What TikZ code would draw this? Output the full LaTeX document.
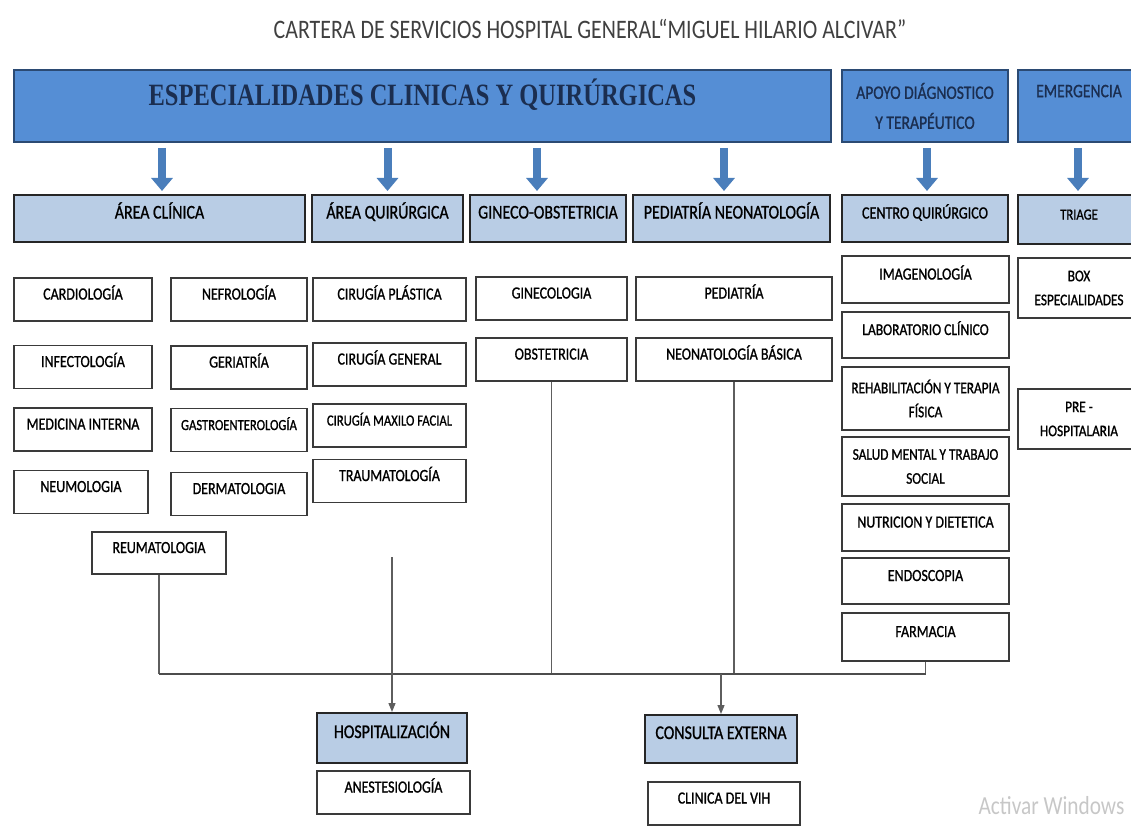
\documentclass[tikz,border=0pt]{standalone}
\usepackage{fontspec}
\setmainfont{Carlito}[FakeStretch=0.82,FakeBold=1]
\newfontfamily\plainfont{Carlito}[FakeStretch=0.82]
\newfontfamily\serifbold{Liberation Serif}[FakeStretch=0.79]
\usetikzlibrary{arrows.meta,calc,positioning}

\definecolor{deepblue}{HTML}{558ED5}
\definecolor{edgeblue}{HTML}{2B4A73}
\definecolor{navy}{HTML}{1B2E50}
\definecolor{arrowblue}{HTML}{4A7EBB}
\definecolor{paleblue}{HTML}{B9CDE5}
\definecolor{edgegray}{HTML}{3A3A3A}
\definecolor{linegray}{HTML}{5E5E5E}

\begin{document}
\begin{tikzpicture}[x=1pt,y=-1pt,
  topbox/.style={draw=edgeblue, line width=2pt, fill=deepblue, text=navy,
    minimum height=72pt, inner sep=0pt},
  headbox/.style={draw=black!85, line width=2pt, fill=paleblue, minimum height=47pt,
    inner sep=0pt, text height=12pt, text depth=12pt, font=\fontsize{19.4}{22}\selectfont},
  cellbox/.style={draw=edgegray, line width=1.6pt, fill=white, minimum height=43pt,
    inner sep=0pt, text height=12pt, text depth=12pt, font=\fontsize{17}{20}\selectfont},
  twoline/.style={text height=, text depth=, align=center, font=\fontsize{16.2}{24}\selectfont},
  bigarrow/.style={draw=arrowblue, line width=8pt, shorten <=5pt, shorten >=3pt,
    -{Triangle[width=21pt,length=13pt]}},
  link/.style={draw=linegray, line width=1.3pt},
  busline/.style={draw=black!70, line width=2pt}]
 \useasboundingbox (0,0) rectangle (1131,837);
 \clip (0,0) rectangle (1131,837);
 \node[text=black!75, font=\plainfont\fontsize{26.7}{30}\selectfont] (title) at (590,29)
   {CARTERA DE SERVICIOS HOSPITAL GENERAL“MIGUEL HILARIO ALCIVAR”};
 % top row
 \node[topbox, minimum width=817pt, text height=22pt, text depth=22pt,
   font=\serifbold\bfseries\fontsize{31}{34}\selectfont] (espec) at (422.5,106)
   {ESPECIALIDADES CLINICAS Y QUIRÚRGICAS};
 \node[topbox, minimum width=166pt, align=center, font=\fontsize{19}{30}\selectfont]
   (apoyo) at (925,106) {APOYO DIÁGNOSTICO\\Y TERAPÉUTICO};
 \node[topbox, minimum width=122pt, align=center, font=\fontsize{19}{30}\selectfont]
   (emerg) at (1079,106) {EMERGENCIA\\~};
 % areas
 \node[headbox, minimum width=291pt] (aclin) at (159.5,218.5) {ÁREA CLÍNICA};
 \node[headbox, minimum width=151pt] (aquir) at (387.5,218.5) {ÁREA QUIRÚRGICA};
 \node[headbox, minimum width=156pt] (gineco) at (548,218.5) {GINECO-OBSTETRICIA};
 \node[headbox, minimum width=197pt] (pedneo) at (731.5,218.5) {PEDIATRÍA NEONATOLOGÍA};
 \node[headbox, minimum width=166pt, font=\fontsize{17.2}{20}\selectfont] (cquir) at (925,218.5)
   {CENTRO QUIRÚRGICO};
 \node[headbox, minimum width=122pt, minimum height=49pt, font=\fontsize{15.4}{18}\selectfont]
   (triage) at (1079,219.5) {TRIAGE};
 \foreach \a/\b/\dx in {espec/aclin/2.5, espec/aquir/0, espec/gineco/-11, espec/pedneo/-7.5,
                        apoyo/cquir/2, emerg/triage/-1}
   \draw[bigarrow] ($(\b.north |- \a.south)+(\dx,0)$) -- ($(\b.north)+(\dx,0)$);
 % area clinica
 \foreach \n/\y/\t in {cardio/299.5/CARDIOLOGÍA, infect/367/INFECTOLOGÍA,
                       medint/429.5/MEDICINA INTERNA}
   \node[cellbox, minimum width=138pt] (\n) at (83,\y) {\t};
 \node[cellbox, minimum width=134pt] (neumo) at (81,492) {NEUMOLOGIA};
 \foreach \n/\y/\t in {nefro/299.5/NEFROLOGÍA, geria/367.5/GERIATRÍA, derma/494/DERMATOLOGIA}
   \node[cellbox, minimum width=136pt] (\n) at (239,\y) {\t};
 \node[cellbox, minimum width=136pt, font=\fontsize{15.4}{18}\selectfont] (gastro) at (239,430)
   {GASTROENTEROLOGÍA};
 \node[cellbox, minimum width=134pt, minimum height=42pt] (reuma) at (159,553) {REUMATOLOGIA};
 % area quirurgica
 \foreach \n/\y/\t in {cplast/299.5/CIRUGÍA PLÁSTICA, cgen/364.5/CIRUGÍA GENERAL,
                       trauma/481/TRAUMATOLOGÍA}
   \node[cellbox, minimum width=153pt] (\n) at (389.5,\y) {\t};
 \node[cellbox, minimum width=153pt, font=\fontsize{15.4}{18}\selectfont] (cmaxf) at (389.5,425.5)
   {CIRUGÍA MAXILO FACIAL};
 % gineco y pediatria
 \node[cellbox, minimum width=151pt] (ginec) at (551.5,298.5) {GINECOLOGIA};
 \node[cellbox, minimum width=151pt] (obste) at (551.5,359.5) {OBSTETRICIA};
 \node[cellbox, minimum width=196pt] (pedia) at (734,298.5) {PEDIATRÍA};
 \node[cellbox, minimum width=196pt] (neona) at (734,359.5) {NEONATOLOGÍA BÁSICA};
 % apoyo
 \node[cellbox, minimum width=167pt, minimum height=47pt] (imagen) at (925.5,279.5) {IMAGENOLOGÍA};
 \node[cellbox, minimum width=167pt, minimum height=46pt, font=\fontsize{16.5}{20}\selectfont]
   (labo) at (925.5,335) {LABORATORIO CLÍNICO};
 \node[cellbox, twoline, minimum width=167pt, minimum height=63pt] (rehab) at (925.5,398.5)
   {REHABILITACIÓN Y TERAPIA\\FÍSICA};
 \node[cellbox, twoline, minimum width=167pt, minimum height=59pt] (salud) at (925.5,466.5)
   {SALUD MENTAL Y TRABAJO\\SOCIAL};
 \node[cellbox, minimum width=167pt, minimum height=47pt] (nutri) at (925.5,527.5)
   {NUTRICION Y DIETETICA};
 \node[cellbox, minimum width=167pt, minimum height=46pt] (endo) at (925.5,581) {ENDOSCOPIA};
 \node[cellbox, minimum width=167pt, minimum height=48pt] (farma) at (925.5,637) {FARMACIA};
 % emergencia
 \node[cellbox, twoline, minimum width=122pt, minimum height=60pt] (boxesp) at (1079,288)
   {BOX\\ESPECIALIDADES};
 \node[cellbox, twoline, minimum width=122pt, minimum height=60pt] (prehosp) at (1079,419)
   {PRE -\\HOSPITALARIA};
 % salidas
 \node[headbox, minimum width=150pt, minimum height=50pt] (hosp) at (392,738) {HOSPITALIZACIÓN};
 \node[cellbox, minimum width=153pt] (anest) at (393.5,792.5) {ANESTESIOLOGÍA};
 \node[headbox, minimum width=152pt, minimum height=48pt] (consulta) at (721,739) {CONSULTA EXTERNA};
 \node[cellbox, minimum width=152pt] (vih) at (724,803.5) {CLINICA DEL VIH};
 % lines
 \coordinate (bus) at (0,674);
 \coordinate (qtop) at (392,557);
 \draw[link] (reuma.south) -- (reuma.south |- bus);
 \draw[link] (obste.south) -- (obste.south |- bus);
 \draw[link] (neona.south) -- (neona.south |- bus);
 \draw[link] (farma.south) -- (farma.south |- bus);
 \draw[busline] (reuma.south |- bus) -- (farma.south |- bus);
 \draw[link, -{Triangle[length=9pt,width=7pt]}] (qtop) -- (hosp.north);
 \draw[link, -{Triangle[length=9pt,width=7pt]}] (consulta.north |- bus) -- (consulta.north);
 \node[anchor=west, text=black!22, font=\plainfont\fontsize{26}{30}\selectfont] (wmark) at (975,806)
   {Activar Windows};
\end{tikzpicture}
\end{document}
